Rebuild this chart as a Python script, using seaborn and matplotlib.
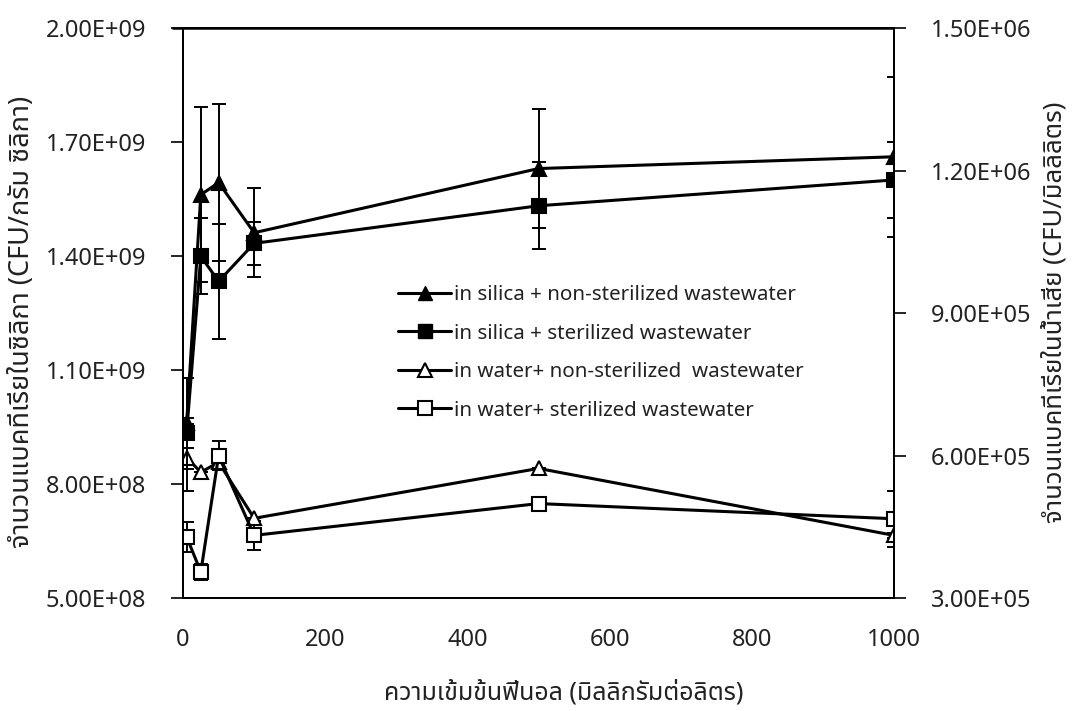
import numpy as np
import pandas as pd
import matplotlib
matplotlib.use("Agg")
import matplotlib.pyplot as plt
from matplotlib.ticker import FuncFormatter, FixedLocator
from matplotlib.lines import Line2D
import seaborn as sns
from matplotlib import font_manager as fm

# ---------------- data ----------------
conc = [5, 25, 50, 100, 500, 1000]

silica_nonster = [0.96e9, 1.562e9, 1.594e9, 1.462e9, 1.631e9, 1.662e9]
silica_nonster_err = [0.12e9, 0.23e9, 0.206e9, 0.117e9, 0.157e9, 0.21e9]

silica_ster = [0.935e9, 1.40e9, 1.334e9, 1.434e9, 1.533e9, 1.601e9]
silica_ster_err = [0.04e9, 0.10e9, 0.152e9, 0.057e9, 0.115e9, 0.10e9]

water_nonster = [5.96e5, 5.65e5, 5.86e5, 4.68e5, 5.73e5, 4.32e5]
water_nonster_err = [0.70e5, 0.0, 0.0, 0.0, 0.0, 0.05e5]

water_ster = [4.29e5, 3.55e5, 6.00e5, 4.32e5, 4.99e5, 4.67e5]
water_ster_err = [0.31e5, 0.17e5, 0.30e5, 0.30e5, 0.05e5, 0.59e5]

left_ticks = [5.0e8, 8.0e8, 1.1e9, 1.4e9, 1.7e9, 2.0e9]
right_ticks = [3.0e5, 6.0e5, 9.0e5, 1.2e6, 1.5e6]
x_ticks = [0, 200, 400, 600, 800, 1000]

labels = ["in silica + non-sterilized wastewater",
          "in silica + sterilized wastewater",
          "in water+ non-sterilized  wastewater",
          "in water+ sterilized wastewater"]

xlabel = "ความเข้มข้นฟีนอล (มิลลิกรัมต่อลิตร)"
ylabel_left = "จำนวนแบคทีเรียในซิลิกา (CFU/กรัม ซิลิกา)"
ylabel_right = "จำนวนแบคทีเรียในน้ำเสีย (CFU/มิลลิลิตร)"

# ---------------- font with Thai glyphs ----------------
def find_thai_font():
    try:
        from fontTools.ttLib import TTFont
    except Exception:
        return None
    prefs = []
    for f in fm.fontManager.ttflist:
        try:
            kw = {"fontNumber": 0} if f.fname.lower().endswith((".ttc", ".otc")) else {}
            tt = TTFont(f.fname, lazy=True, **kw)
            cmap = tt.getBestCmap()
            if cmap and 0x0E01 in cmap and 0x0041 in cmap:
                prefs.append(f.name)
        except Exception:
            pass
    if not prefs:
        return None
    for p in ["Noto Sans Thai", "Noto Sans Thai UI", "Tahoma", "Loma", "Garuda", "Waree"]:
        if p in prefs:
            return p
    return prefs[0]

sns.set_style("white")
thai = find_thai_font()
fam = [thai, "DejaVu Sans"] if thai else ["DejaVu Sans"]
plt.rcParams["font.family"] = fam

TXT = "#222222"
TICKFS = 17

AX_L, AX_R, AX_B, AX_T = 0.1706, 0.8332, 0.1589, 0.9600

fig = plt.figure(figsize=(10.73, 7.11), dpi=100)
ax = fig.add_axes([AX_L, AX_B, AX_R - AX_L, AX_T - AX_B])
ax2 = ax.twinx()

LW = 2.2
MS = 10

def draw(axis, y, err, marker, filled):
    df = pd.DataFrame({"x": conc, "y": y})
    axis.errorbar(conc, y, yerr=err, fmt="none", ecolor="black",
                  elinewidth=1.4, capsize=5, capthick=1.4, zorder=2)
    sns.lineplot(data=df, x="x", y="y", ax=axis, color="black", lw=LW,
                 marker=marker, markersize=MS,
                 markerfacecolor="black" if filled else "white",
                 markeredgecolor="black", markeredgewidth=1.5,
                 legend=False, zorder=3)

draw(ax, silica_nonster, silica_nonster_err, "^", True)
draw(ax, silica_ster, silica_ster_err, "s", True)
draw(ax2, water_nonster, water_nonster_err, "^", False)
draw(ax2, water_ster, water_ster_err, "s", False)

ax.set_xlim(0, 1000)
ax.set_ylim(5e8, 2e9)
ax2.set_ylim(3e5, 1.5e6)
ax.xaxis.set_major_locator(FixedLocator(x_ticks))
ax.yaxis.set_major_locator(FixedLocator(left_ticks))
ax2.yaxis.set_major_locator(FixedLocator(right_ticks))
fmt = FuncFormatter(lambda v, p: f"{v:.2E}")
ax.yaxis.set_major_formatter(fmt)
ax2.yaxis.set_major_formatter(fmt)
ax.set_xlabel("")
ax.set_ylabel("")
ax2.set_ylabel("")

ax.tick_params(axis="x", direction="out", length=8.5, width=1.2,
               colors="black", labelcolor=TXT, labelsize=TICKFS, pad=13)
ax.tick_params(axis="y", direction="out", length=8.5, width=1.2,
               colors="black", labelcolor=TXT, labelsize=TICKFS, pad=18)
ax2.tick_params(axis="y", direction="out", length=8.5, width=1.2,
                colors="black", labelcolor=TXT, labelsize=TICKFS, pad=18)

ax.set_zorder(ax2.get_zorder() + 1)
ax.patch.set_visible(False)

for a in (ax, ax2):
    for name, s in a.spines.items():
        s.set_visible(True)
        s.set_color("black")
        s.set_linewidth(1.4)
        s.set_zorder(5)

# explicit top frame line in figure coordinates
fig.add_artist(Line2D([AX_L - 0.0105, AX_R], [AX_T, AX_T], transform=fig.transFigure,
                      color="black", lw=1.8, solid_capstyle="butt"))

fig.text(564 / 1073, 1 - 693 / 711, xlabel, fontsize=18, color=TXT,
         ha="center", va="center")
fig.text(22 / 1073, 1 - 322 / 711, ylabel_left, fontsize=19.5, color=TXT,
         rotation=90, ha="center", va="center")
fig.text(1055 / 1073, 1 - 312 / 711, ylabel_right, fontsize=18.5, color=TXT,
         rotation=90, ha="center", va="center")

handles = [
    Line2D([], [], color="black", lw=LW, marker="^", markersize=MS, markerfacecolor="black"),
    Line2D([], [], color="black", lw=LW, marker="s", markersize=MS, markerfacecolor="black"),
    Line2D([], [], color="black", lw=LW, marker="^", markersize=MS, markerfacecolor="white", markeredgewidth=1.5),
    Line2D([], [], color="black", lw=LW, marker="s", markersize=MS, markerfacecolor="white", markeredgewidth=1.5),
]
ax.legend(handles, labels, loc="upper left", bbox_to_anchor=(0.276, 0.582),
          frameon=False, fontsize=14.8, handlelength=2.6, handletextpad=0.15,
          labelspacing=0.9, labelcolor=TXT)

fig.savefig("out.png", dpi=100)
